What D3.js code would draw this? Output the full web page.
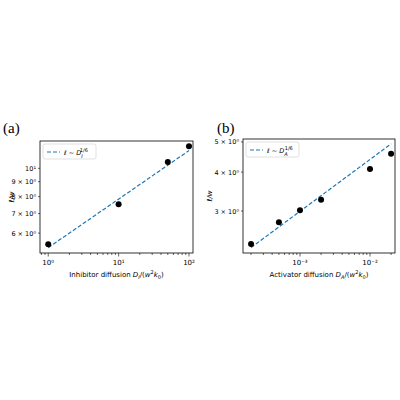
<!DOCTYPE html><html><head><script src="https://cdn.jsdelivr.net/npm/d3@7"></script>
<style>body{margin:0;background:#fff}text{font-family:"DejaVu Sans",sans-serif}text.lab{font-family:"Liberation Serif","DejaVu Serif",serif}</style></head><body><svg id="s" width="400" height="400"></svg>
<script>
const aX=[1,10,50,100], aY=[5.5,7.54,10.5,11.9];
const aFit=[[1,5.35],[100,11.5]];
const aYTicks=[6,7,8,9,10], aYLabels=["6 × 10⁰","7 × 10⁰","8 × 10⁰","9 × 10⁰","10¹"];
const aXTicks=[1,10,100], aXLabels=["10⁰","10¹","10²"];
const bX=[2e-4,5e-4,1e-3,2e-3,1e-2,2e-2], bY=[2.35,2.76,3.02,3.26,4.09,4.58];
const bFit=[[2e-4,2.29],[2e-2,4.93]];
const bYTicks=[3,4,5], bYLabels=["3 × 10⁰","4 × 10⁰","5 × 10⁰"];
const bXTicks=[1e-3,1e-2], bXLabels=["10⁻³","10⁻²"];
const svg=d3.select("#s");
function panel(o){
 const g=svg.append("g");
 const x=d3.scaleLog().domain(o.xd).range([o.l,o.r]);
 const y=d3.scaleLog().domain(o.yd).range([o.b,o.t]);
 const [e0,e1]=[Math.floor(Math.log10(o.xd[0])),Math.ceil(Math.log10(o.xd[1]))];
 for(let e=e0;e<=e1;e++)for(let k=1;k<10;k++){const v=k*Math.pow(10,e);if(v<o.xd[0]||v>o.xd[1])continue;
  g.append("line").attr("x1",x(v)).attr("x2",x(v)).attr("y1",o.b).attr("y2",o.b+(k==1?3.5:2)).attr("stroke","#000").attr("stroke-width",0.6);}
 o.xt.forEach((v,i)=>g.append("text").attr("x",x(v)).attr("y",o.b+12).attr("text-anchor","middle").attr("font-size",7).text(o.xl[i]));
 o.yt.forEach((v,i)=>{g.append("line").attr("x1",o.l-2).attr("x2",o.l).attr("y1",y(v)).attr("y2",y(v)).attr("stroke","#000").attr("stroke-width",0.6);
  g.append("text").attr("x",o.l-4).attr("y",y(v)+2.5).attr("text-anchor","end").attr("font-size",6.5).text(o.yl[i]);});
 const line=d3.line().x(d=>x(d[0])).y(d=>y(d[1]));
 g.append("path").attr("d",line(o.fit)).attr("stroke","#1f77b4").attr("stroke-width",1.2).attr("stroke-dasharray","4,2").attr("fill","none");
 o.px.forEach((v,i)=>g.append("circle").attr("cx",x(v)).attr("cy",y(o.py[i])).attr("r",3).attr("fill","#000"));
 g.append("rect").attr("x",o.l).attr("y",o.t).attr("width",o.r-o.l).attr("height",o.b-o.t).attr("fill","none").attr("stroke","#000").attr("stroke-width",0.8);
 g.append("rect").attr("x",o.l+3).attr("y",o.t+3).attr("width",53).attr("height",15).attr("fill","#fff").attr("stroke","#ccc").attr("stroke-width",0.6).attr("rx",2);
 g.append("line").attr("x1",o.l+7).attr("x2",o.l+20).attr("y1",o.t+11).attr("y2",o.t+11).attr("stroke","#1f77b4").attr("stroke-width",1.2).attr("stroke-dasharray","4,2");
 const t=g.append("text").attr("x",o.l+24).attr("y",o.t+13.5).attr("font-size",6.5);
 t.append("tspan").attr("font-style","italic").text("ℓ");t.append("tspan").text(" ~ ");
 t.append("tspan").attr("font-style","italic").text("D");
 t.append("tspan").attr("font-size",5).attr("dy",3).attr("font-style","italic").text(o.sub);
 t.append("tspan").attr("font-size",5).attr("dy",-6).attr("dx",-3).text("1/6");
 const xl=g.append("text").attr("x",(o.l+o.r)/2).attr("y",o.b+24).attr("text-anchor","middle").attr("font-size",7);
 xl.append("tspan").text(o.xname+" ");xl.append("tspan").attr("font-style","italic").text("D");
 xl.append("tspan").attr("font-size",5).attr("dy",2).attr("font-style","italic").text(o.sub);
 xl.append("tspan").attr("dy",-2).text("/(");xl.append("tspan").attr("font-style","italic").text("w");
 xl.append("tspan").attr("font-size",5).attr("dy",-3).text("2");xl.append("tspan").attr("dy",3).attr("font-style","italic").text("k");
 xl.append("tspan").attr("font-size",5).attr("dy",2).text("0");xl.append("tspan").attr("dy",-2).text(")");
 g.append("text").attr("transform",`translate(${o.yx},${(o.t+o.b)/2}) rotate(-90)`).attr("text-anchor","middle").attr("font-size",7).attr("font-style","italic").text("ℓ/w");
 g.append("text").attr("class","lab").attr("x",o.lx).attr("y",133).attr("font-size",15).text(o.lab);
}
panel({l:40,r:193,t:141,b:253,xd:[0.764,114],yd:[5.13,12.4],xt:aXTicks,xl:aXLabels,yt:aYTicks,yl:aYLabels,px:aX,py:aY,fit:aFit,sub:"I",xname:"Inhibitor diffusion",yx:14,lx:3,lab:"(a)"});
panel({l:243,r:395,t:139,b:253,xd:[1.535e-4,2.275e-2],yd:[2.2,5.11],xt:bXTicks,xl:bXLabels,yt:bYTicks,yl:bYLabels,px:bX,py:bY,fit:bFit,sub:"A",xname:"Activator diffusion",yx:212,lx:217,lab:"(b)"});
</script></body></html>
